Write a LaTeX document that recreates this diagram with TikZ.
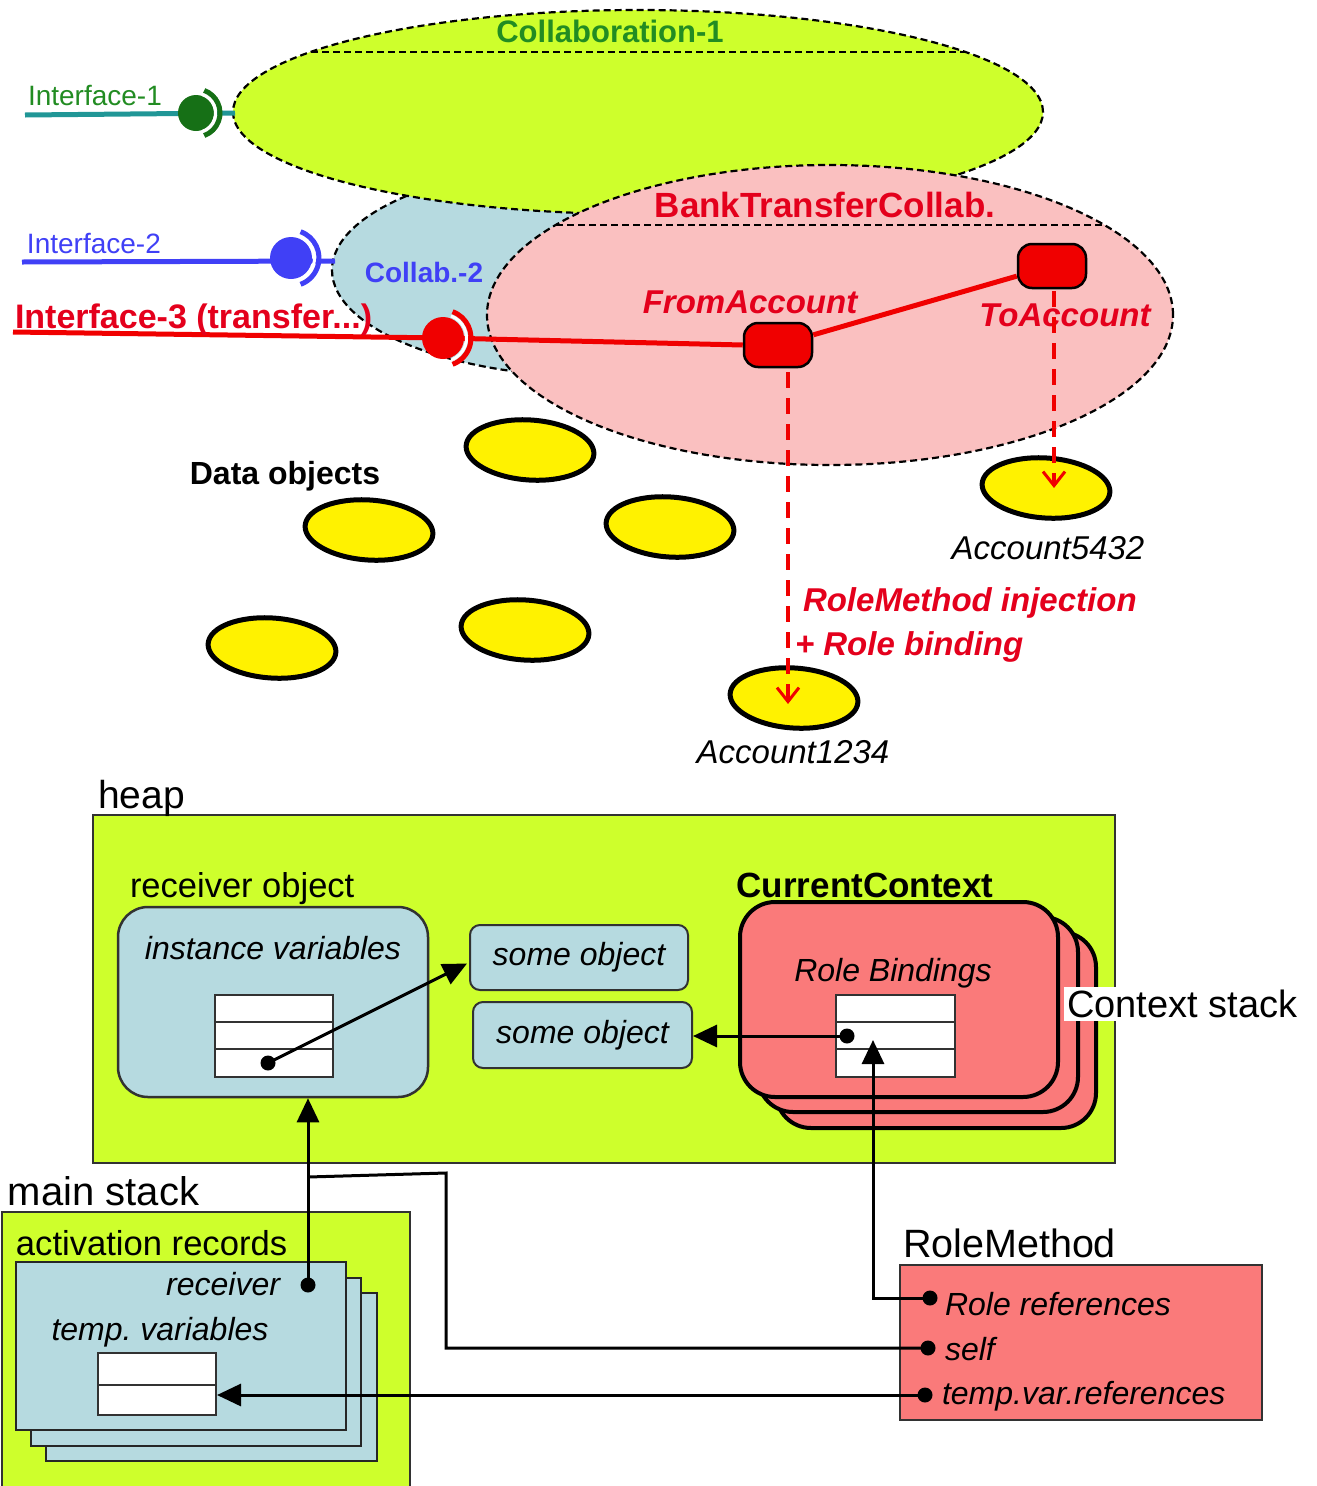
\documentclass[tikz,border=0pt]{standalone}
\usepackage{fontspec}
\setmainfont{Liberation Sans}
\usetikzlibrary{shapes.geometric,arrows.meta,calc}
\frenchspacing
\definecolor{lime}{RGB}{206,255,44}
\definecolor{lblue}{RGB}{182,218,224}
\definecolor{pinkc}{RGB}{250,192,192}
\definecolor{salmon}{RGB}{250,122,122}
\definecolor{rred}{RGB}{240,0,0}
\definecolor{tred}{RGB}{228,0,28}
\definecolor{gtext}{RGB}{34,140,34}
\definecolor{gball}{RGB}{22,112,22}
\definecolor{teal1}{RGB}{32,150,150}
\definecolor{blue1}{RGB}{64,64,246}
\definecolor{dgray}{RGB}{50,50,50}
\newcommand\fsz[1]{\fontsize{#1pt}{#1pt}\selectfont}
\newcommand\bx[6]{\node[#6, inner sep=0pt, minimum width={(#4)-(#2)}, minimum height={(#5)-(#3)}] (#1) at ({((#2)+(#4))/2},{((#3)+(#5))/2}) {};}
\begin{document}
\begin{tikzpicture}[x=1pt,y=-1pt,
  txt/.style={inner sep=0pt, outer sep=0pt},
  collab/.style={ellipse, draw=black, dash pattern=on 7pt off 4pt, line width=2.2pt, inner sep=0pt},
  cline/.style={draw=black, dash pattern=on 7pt off 4pt, line width=2.2pt},
  dobj/.style={ellipse, draw=black, fill=yellow, line width=5pt, inner sep=0pt, minimum width=128, minimum height=60, rotate=-4},
  role/.style={rectangle, rounded corners=14pt, draw=black, fill=rred, line width=2.5pt, minimum width=68, minimum height=44, inner sep=0pt},
  inject/.style={rred, line width=3.5pt, dash pattern=on 16pt off 10pt, -{Straight Barb[length=14pt,width=22pt,line width=3pt]}},
  ptr/.style={black, line width=3pt, -{Triangle[length=24pt,width=22pt]}},
  wire/.style={black, line width=3pt},
  dot/.style={circle, fill=black, inner sep=0pt, minimum size=15},
  cell/.style={rectangle, draw=dgray, fill=white, line width=2pt},
  ball/.style={circle, inner sep=0pt, minimum size=#1},
  ctx/.style={draw=black, fill=salmon, line width=4pt, rounded corners=35pt},
  ars/.style={draw=black!85, fill=lblue, line width=2pt},
]
\useasboundingbox (0,0) rectangle (1317,1486);
% ---------- collaborations
\node[collab, fill=lblue, minimum width=536, minimum height=214] (c2) at (600,270) {};
\node[collab, fill=lime, minimum width=810, minimum height=204] (c1) at (638,112) {};
\node[collab, fill=pinkc, minimum width=686, minimum height=300] (c3) at (830,315) {};
\draw[cline] (311,52) -- (965,52);
\draw[cline] (556,225) -- (1104,225);
\node[txt, text=gtext, font=\fsz{31}\bfseries] (t1) at (610,31) {Collaboration-1};
\node[txt, text=tred, font=\fsz{35}\bfseries] (t3) at (825,205) {BankTransferCollab.};
\node[txt, text=blue1, font=\fsz{28}\bfseries] (t2) at (424,272) {Collab.-2};
% ---------- interfaces
\coordinate (i1s) at (25,115); \coordinate (i1e) at (235,113); \coordinate (b1c) at (196,113);
\coordinate (i2s) at (22,262); \coordinate (i2e) at (335,261); \coordinate (b2c) at (291,258);
\coordinate (i3s) at (13,332); \coordinate (b3c) at (443,338);
\node[role] (fa) at (778,345) {};
\node[role] (ta) at (1052,266) {};
\draw[teal1, line width=5pt] (i1s) -- (i1e);
\draw[blue1, line width=5pt] (i2s) -- (i2e);
\draw[rred, line width=5pt] (i3s) -- (b3c) -- (fa.west);
\draw[rred, line width=5pt] (fa) -- (ta);
\node[ball=36, fill=gball] (b1) at (b1c) {};
\node[ball=42, fill=blue1] (b2) at (b2c) {};
\node[ball=42, fill=rred] (b3) at (b3c) {};
\foreach \b/\c/\r in {b1/gball/24, b2/blue1/28, b3/rred/28}{
  \draw[white, line width=3pt] (\b.center) ++(-70:{\r-4.5}) arc[start angle=-70, end angle=70, radius={\r-4.5}];
  \draw[\c, line width=5pt] (\b.center) ++(-70:\r) arc[start angle=-70, end angle=70, radius=\r];
}
\node[txt, text=gtext, font=\fsz{28}, anchor=base west] (l1) at (28,105) {Interface-1};
\node[txt, text=blue1, font=\fsz{28}, anchor=base west] (l2) at (27,253) {Interface-2};
\node[txt, text=tred, font=\fsz{34}\bfseries, anchor=base west] (l3) at (15,328) {Interface-3 (transfer...)};
\node[txt, text=tred, font=\fsz{33}\bfseries\itshape] (fal) at (750,302) {FromAccount};
\node[txt, text=tred, font=\fsz{33}\bfseries\itshape] (tal) at (1065,315) {ToAccount};
% ---------- data objects
\node[dobj] (d1) at (530,450) {};
\node[dobj] (d2) at (369,530) {};
\node[dobj] (d3) at (670,527) {};
\node[dobj] (d4) at (272,648) {};
\node[dobj] (d5) at (525,630) {};
\node[dobj] (acc5432) at (1046,488) {};
\node[dobj] (acc1234) at (794,698) {};
\node[txt, font=\fsz{32}\bfseries] (dol) at (285,476) {Data objects};
\node[txt, font=\fsz{33}\itshape] (a5l) at (1048,548) {Account5432};
\node[txt, font=\fsz{33}\itshape] (a1l) at (793,752) {Account1234};
\draw[inject] ($(fa.south)+(10,4)$) -- ($(acc1234.center)+(-6,6)$);
\draw[inject] ($(ta.south)+(2,2)$) -- ($(acc5432.center)+(8,0)$);
\node[txt, text=tred, font=\fsz{33}\bfseries\itshape, anchor=west] (inj1) at (803,603) {RoleMethod injection};
\node[txt, text=tred, font=\fsz{33}\bfseries\itshape, anchor=west] (inj2) at (795,647) {+ Role binding};
% ---------- heap
\bx{heap}{93}{815}{1115}{1163}{draw=dgray, fill=lime, line width=2pt}
\node[txt, font=\fsz{39}, anchor=base west] (heapl) at (98,808) {heap};
\bx{recv}{118}{907}{428}{1097}{draw=dgray, fill=lblue, line width=2.5pt, rounded corners=30pt}
\node[txt, font=\fsz{34.5}, anchor=base west] (recvl) at (130,897) {receiver object};
\node[txt, font=\fsz{32}\itshape] (ivl) at (273,948) {instance variables};
\bx{iv1}{215}{995}{333}{1022}{cell}
\bx{iv2}{215}{1022}{333}{1049}{cell}
\bx{iv3}{215}{1049}{333}{1077}{cell}
\node[dot] (ivd) at (268,1063) {};
\bx{so1}{470}{925}{688}{990}{draw=dgray, fill=lblue, line width=2pt, rounded corners=10pt}
\node[txt, font=\fsz{32}\itshape] (so1l) at (so1) {some object};
\bx{so2}{473}{1002}{692}{1068}{draw=dgray, fill=lblue, line width=2pt, rounded corners=10pt}
\node[txt, font=\fsz{32}\itshape] (so2l) at (so2) {some object};
\bx{cs3}{776}{932}{1096}{1128}{ctx}
\bx{cs2}{758}{917}{1078}{1112}{ctx}
\bx{cs1}{740}{902}{1058}{1097}{ctx}
\node[txt, font=\fsz{35}\bfseries, anchor=base] (ccl) at (865,897) {CurrentContext};
\node[txt, font=\fsz{32}\itshape] (rbl) at (893,973) {Role Bindings};
\bx{rb1}{836}{995}{955}{1022}{cell}
\bx{rb2}{836}{1022}{955}{1049}{cell}
\bx{rb3}{836}{1049}{955}{1077}{cell}
\node[dot] (rbd) at (847,1036) {};
\node[txt, fill=white, inner sep=3pt, font=\fsz{38}, anchor=west] (csl) at (1064,1004) {Context stack};
% ---------- main stack
\node[txt, font=\fsz{40}, anchor=base west] (msl) at (8,1205) {main stack};
\bx{ms}{2}{1212}{410}{1492}{draw=dgray, fill=lime, line width=2pt}
\node[txt, font=\fsz{34.6}, anchor=base west] (arl) at (16,1255) {activation records};
\bx{ar3}{46}{1293}{377}{1461}{ars}
\bx{ar2}{31}{1278}{361}{1446}{ars}
\bx{ar1}{16}{1262}{346}{1430}{ars}
\node[txt, font=\fsz{32}\itshape, anchor=east] (rcl) at (280,1284) {receiver};
\node[dot] (rcd) at (308,1285) {};
\node[txt, font=\fsz{32}\itshape] (tvl) at (160,1332) {temp. variables};
\bx{tv1}{98}{1353}{216}{1385}{cell}
\bx{tv2}{98}{1385}{216}{1415}{cell}
% ---------- RoleMethod
\node[txt, font=\fsz{39.5}, anchor=base west] (rml) at (903,1257) {RoleMethod};
\bx{rm}{900}{1265}{1262}{1420}{draw=dgray, fill=salmon, line width=2pt}
\node[dot] (rm1) at (930,1298) {};
\node[dot] (rm2) at (928,1348) {};
\node[dot] (rm3) at (925,1395) {};
\node[txt, font=\fsz{32}\itshape, anchor=west] (rm1l) at (945,1304) {Role references};
\node[txt, font=\fsz{32}\itshape, anchor=west] (rm2l) at (945,1349) {self};
\node[txt, font=\fsz{32}\itshape, anchor=west] (rm3l) at (942,1396) {temp.var.references};
% ---------- connectors
\coordinate (sA) at (446,1173);
\coordinate (sB) at (308,1177);
\coordinate (rbt) at (873,1040);
\draw[ptr] (ivd.center) -- ($(so1.west)+(-2,6)$);
\draw[ptr] (rbd.center) -- (so2.east |- rbd.center);
\draw[ptr] (rcd.center) -- (rcd.center |- recv.south);
\draw[wire] (rm2.center) -| (sA) -- (sB);
\draw[ptr] (rm1.center) -| (rbt);
\draw[ptr] (rm3.center) -- (tv2.east |- rm3.center);
\end{tikzpicture}
\end{document}
